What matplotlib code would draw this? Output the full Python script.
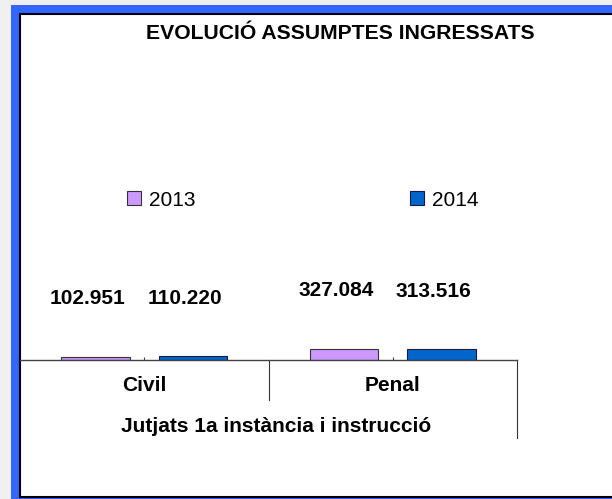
import matplotlib
matplotlib.use("Agg")
import matplotlib.pyplot as plt
from matplotlib.patches import Rectangle
import numpy as np

# ── Data ────────────────────────────────────────────────
categories = ['Civil', 'Penal']
group_label = 'Jutjats 1a instància i instrucció'
years = ['2013', '2014']
values_2013 = [102951, 327084]
values_2014 = [110220, 313516]
value_labels_2013 = ['102.951', '327.084']
value_labels_2014 = ['110.220', '313.516']
title = 'EVOLUCIÓ ASSUMPTES INGRESSATS'

col_2013 = '#CC99FF'
col_2014 = '#0066CC'
frame_blue = '#3366FF'

plt.rcParams['font.family'] = ['Liberation Sans', 'DejaVu Sans']

W, H = 612, 499
fig = plt.figure(figsize=(W / 100, H / 100), dpi=100)
fig.patch.set_facecolor('#f0f0f0')

def fx(x):
    return x / W

def fy(y):
    return 1 - y / H

# ── Frame (blue strip + white chart box) ────────────────
fig.patches.append(Rectangle((fx(11), 0), 1, fy(5), transform=fig.transFigure,
                             facecolor=frame_blue, edgecolor='none', zorder=0))
fig.patches.append(Rectangle((fx(20), fy(497)), 1, fy(14) - fy(497),
                             transform=fig.transFigure, facecolor='white',
                             edgecolor='black', linewidth=1.5, zorder=1))

# ── Axes ────────────────────────────────────────────────
ax = fig.add_axes([fx(20), fy(360), fx(517) - fx(20), fy(50) - fy(360)])
ax.set_zorder(3)
ax.set_facecolor('none')

x = np.arange(len(categories)) + 0.5
offset = 0.196
width = 0.275
bars1 = ax.bar(x - offset, values_2013, width, color=col_2013,
               edgecolor='#333333', linewidth=0.8, label=years[0])
bars2 = ax.bar(x + offset, values_2014, width, color=col_2014,
               edgecolor='#1a1a40', linewidth=0.8, label=years[1])

ax.set_xlim(0, 2)
ax.set_ylim(0, 9.2e6)

for bars, labels in [(bars1, value_labels_2013), (bars2, value_labels_2014)]:
    for bar, lab in zip(bars, labels):
        ax.annotate(lab, (bar.get_x() + bar.get_width() / 2, bar.get_height()),
                    xytext=(-8, 58), textcoords='offset pixels',
                    ha='center', va='center', fontsize=15, fontweight='bold')

for s in ['left', 'top', 'right']:
    ax.spines[s].set_visible(False)
ax.spines['bottom'].set_color('#444444')
ax.spines['bottom'].set_linewidth(1.0)
ax.set_yticks([])
ax.set_xticks(x)
ax.set_xticklabels(categories, fontsize=15, fontweight='bold')
ax.tick_params(axis='x', direction='in', length=2.2, width=0.8,
               color='#444444', pad=11.5)

# group dividers below the axis
tr = ax.get_xaxis_transform()
ax.plot([1, 1], [0, -40 / 310], transform=tr, color='#333333', lw=0.8, clip_on=False)
ax.plot([2, 2], [0, -78 / 310], transform=tr, color='#333333', lw=0.8, clip_on=False)
ax.text(0.515, -66 / 310, group_label, transform=ax.transAxes,
        ha='center', va='center', fontsize=15, fontweight='bold')

# ── Legend ──────────────────────────────────────────────
ax.legend(loc='center left', bbox_to_anchor=(fx(127), fy(200)),
          bbox_transform=fig.transFigure, ncol=2, frameon=False,
          fontsize=15, handlelength=0.67, handleheight=0.63,
          handletextpad=0.38, columnspacing=10.3, borderpad=0,
          borderaxespad=0)

# ── Title ───────────────────────────────────────────────
fig.text(fx(340), fy(33.5), title, ha='center', va='center',
         fontsize=15.2, fontweight='bold', zorder=5)

plt.savefig('out.png', dpi=100)
